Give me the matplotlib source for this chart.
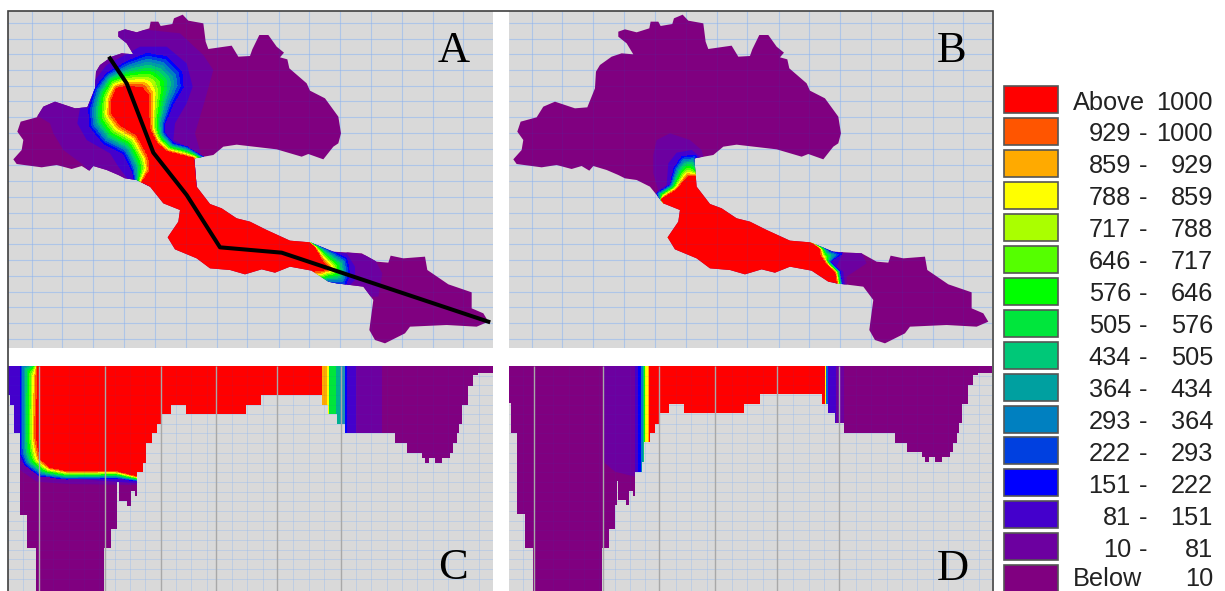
import numpy as np
import matplotlib
matplotlib.use("Agg")
import matplotlib.pyplot as plt
from matplotlib.path import Path
from matplotlib.patches import PathPatch, Rectangle

# Legend
legend_low = ["Above", "929", "859", "788", "717", "646", "576", "505", "434", "364", "293", "222", "151", "81", "10", "Below"]
legend_high = ["1000", "1000", "929", "859", "788", "717", "646", "576", "505", "434", "364", "293", "222", "151", "81", "10"]
legend_colors = ["#ff0000", "#ff5500", "#ffaa00", "#ffff00", "#aaff00", "#55ff00", "#00ff00", "#00e63c",
                 "#00c878", "#00a0a0", "#0080c0", "#0040e0", "#0000ff", "#4400cc", "#6c00a0", "#800080"]
front_levels = [151, 222, 293, 364, 434, 505, 576, 646, 717, 788, 859, 929, 1000, 1001]
IDX_10 = "#6c00a0"
IDX_81 = "#4400cc"
BELOW = "#800080"
PANEL_BG = "#d9d9d9"

# Plan outline
outline = [(355, 95), (375, 88), (410, 97), (448, 85), (452, 65), (475, 65), (482, 78), (517, 72), (522, 55), (548, 44),
           (565, 62), (610, 70), (617, 125), (625, 147), (695, 137), (715, 170), (750, 168), (757, 148), (778, 105),
           (805, 105), (830, 140), (852, 158), (840, 172), (862, 178), (868, 205), (920, 250), (930, 272), (975, 295),
           (1015, 350), (1023, 400), (1015, 430), (1000, 440), (970, 478), (925, 462), (905, 470), (830, 448), (710, 434),
           (670, 440), (640, 465), (583, 475), (590, 560), (630, 612), (665, 625), (710, 655), (750, 665), (800, 690),
           (870, 722), (930, 727), (1000, 755), (1085, 760), (1130, 785), (1165, 788), (1172, 767), (1210, 775), (1275, 770),
           (1282, 810), (1345, 853), (1415, 877), (1415, 925), (1450, 940), (1465, 965), (1430, 980), (1340, 975), (1230, 980),
           (1215, 1000), (1155, 1030), (1125, 1020), (1108, 990), (1120, 900), (1090, 860), (1010, 850), (985, 845), (935, 812),
           (870, 800), (825, 818), (785, 808), (735, 823), (690, 810), (630, 805), (590, 775), (525, 748), (503, 712), (535, 665),
           (540, 630), (490, 610), (450, 560), (410, 540), (375, 535), (355, 525), (320, 510), (280, 498), (268, 512), (245, 498),
           (215, 507), (170, 495), (125, 502), (50, 492), (40, 478), (65, 450), (70, 420), (52, 395), (62, 365), (110, 352),
           (130, 320), (165, 305), (225, 325), (262, 322), (285, 265), (288, 215), (300, 195), (335, 170), (365, 160), (400, 163),
           (380, 130), (355, 110)]
section_line = [(330, 175), (380, 250), (460, 458), (560, 585), (660, 742), (845, 758), (1465, 965)]

# Panel A contours
a_light = [[(100, 340), (140, 290), (280, 150), (355, 80), (540, 100), (610, 165), (640, 210), (615, 300), (585, 400),
            (605, 470), (600, 560), (300, 560), (250, 495), (190, 450), (160, 400), (150, 370)],
           [(1040, 755), (1120, 770), (1147, 820), (1135, 890), (1100, 890), (1040, 860)]]
a_indigo = [[(232, 370), (240, 325), (285, 240), (320, 195), (420, 140), (500, 140), (560, 190), (578, 260), (560, 310),
             (525, 370), (520, 420), (560, 440), (610, 470), (590, 560), (400, 560), (355, 500), (330, 460), (260, 420)],
            [(1000, 755), (1040, 760), (1065, 800), (1065, 840), (1045, 860), (985, 860)]]
a_outer = [(265, 330), (285, 265), (320, 220), (380, 185), (440, 160), (500, 170), (545, 215), (550, 260), (520, 310), (495, 370),
           (495, 400), (520, 430), (560, 440), (600, 465), (700, 520), (850, 650), (930, 725), (1000, 755), (1040, 775),
           (1050, 820), (1035, 858), (985, 850), (900, 900), (500, 850), (405, 545), (395, 510), (370, 460), (310, 430), (270, 380)]
a_inner = [(350, 265), (380, 258), (425, 262), (445, 285), (447, 340), (450, 390), (470, 430), (500, 455), (580, 475), (650, 520),
           (800, 600), (925, 725), (945, 745), (965, 780), (985, 805), (965, 812), (930, 815), (800, 850), (500, 800), (420, 600),
           (425, 548), (450, 510), (445, 470), (410, 405), (360, 375), (335, 340), (335, 300)]

# Panel B contours
b_light = [[(460, 465), (470, 420), (510, 400), (570, 420), (605, 450), (610, 470), (590, 530), (480, 590), (460, 520)],
           [(1000, 760), (1085, 758), (1100, 790), (1040, 830), (1040, 860), (1000, 860)]]
b_indigo = [[(505, 490), (530, 458), (575, 450), (600, 470), (590, 500), (480, 590), (470, 575), (500, 555)],
            [(985, 755), (1030, 755), (1010, 800), (1030, 815), (1035, 860), (1000, 860)]]
b_outer = [(470, 580), (510, 555), (522, 505), (545, 470), (585, 465), (595, 480), (640, 600), (900, 700), (985, 750),
           (1025, 762), (990, 785), (1020, 815), (1028, 860), (950, 900), (500, 850), (480, 600)]
b_inner = [(485, 598), (530, 570), (565, 530), (600, 530), (650, 600), (900, 700), (960, 750), (962, 770), (985, 800),
           (1005, 818), (1012, 858), (950, 890), (520, 840), (490, 610)]

# Section C: bed steps and contours
c_x = [24, 30, 42, 60, 82, 107, 313, 333, 352, 358, 382, 392, 405, 412, 430, 437, 455, 470, 483, 512, 557, 737, 783, 965, 985,
       1010, 1035, 1185, 1222, 1267, 1275, 1288, 1305, 1325, 1350, 1360, 1370, 1377, 1387, 1403, 1420, 1435, 1479]
c_y = [135, 165, 250, 495, 595, 800, 595, 538, 395, 452, 467, 423, 437, 367, 338, 280, 250, 222, 193, 165, 193, 165, 135, 165,
       193, 222, 250, 280, 310, 323, 338, 323, 338, 323, 310, 280, 250, 222, 165, 107, 75, 70]
c_light = [(24, 48), (24, 350), (60, 360), (110, 395), (200, 402), (412, 405), (412, 48)]
c_indigo = [(24, 48), (24, 300), (60, 330), (115, 378), (412, 400), (412, 48)]
c_outer = [(60, 40), (60, 310), (75, 345), (120, 378), (200, 388), (350, 385), (412, 393), (1100, 393), (1100, 40)]
c_inner = [(112, 40), (108, 260), (120, 325), (150, 352), (200, 362), (350, 362), (412, 378), (1100, 378), (1100, 40)]
c_band_edges = [965, 982, 987, 1008, 1020, 1035, 1042, 1067, 1147]
c_band_colors = ["#ffaa00", "#ffff00", "#00e63c", "#00b090", "#2090b0", "#0000ff", IDX_81, IDX_10]
c_verticals = [117, 316, 482, 648, 832, 1022]

# Section D
d_x = [28, 33, 50, 75, 98, 305, 328, 345, 350, 355, 378, 386, 400, 406, 425, 432, 449, 465, 477, 507, 553, 733, 780, 965, 985,
       1005, 1033, 1185, 1222, 1267, 1275, 1288, 1305, 1325, 1350, 1360, 1370, 1377, 1387, 1403, 1420, 1435, 1477]
d_y = [160, 248, 493, 595, 800, 595, 537, 465, 393, 450, 465, 423, 437, 365, 335, 277, 248, 222, 190, 163, 190, 163, 133, 163,
       190, 220, 248, 278, 307, 320, 335, 320, 335, 320, 307, 278, 248, 220, 163, 105, 75, 68]
d_light = [(310, 48), (310, 335), (345, 365), (405, 380), (405, 48)]
d_band_edges = [405, 413, 422, 428, 432, 436, 444, 448, 975, 978, 985, 1008, 1033]
d_band_colors = [IDX_81, "#0000ff", "#0080c0", "#00c878", "#00ff00", "#ffff00", "#ffaa00", "#ff0000", "#ffff00", "#0060e0", IDX_81, IDX_10]
d_verticals = [103, 308, 477, 645, 830, 1018]

map_grid_x = [95, 187, 280, 372, 465, 558, 650, 742, 836, 928, 1020, 1113, 1205, 1298, 1390]
map_grid_y = [70, 117, 163, 210, 257, 303, 350, 398, 447, 495, 543, 590, 638, 685, 733, 780, 827, 875, 922, 970, 1016]
sec_grid_x = [68, 160, 206, 252, 298, 344, 390, 436, 528, 574, 620, 696, 742, 788, 880, 926, 972, 1068, 1114, 1160, 1206, 1252, 1298, 1344, 1390, 1436]
sec_grid_y = [77, 106, 135, 165, 193, 222, 250, 280, 310, 338, 367, 396, 425, 454, 483, 512, 541, 570, 599, 628, 657, 686]


def dist_to_poly(xx, yy, poly):
    pts = np.array(poly + [poly[0]], dtype=float)
    best = np.full(xx.shape, np.inf)
    for (x0, y0), (x1, y1) in zip(pts[:-1], pts[1:]):
        dx, dy = x1 - x0, y1 - y0
        u = np.clip(((xx - x0) * dx + (yy - y0) * dy) / (dx * dx + dy * dy), 0, 1)
        best = np.minimum(best, np.hypot(xx - x0 - u * dx, yy - y0 - u * dy))
    return best


def front_field(xx, yy, inner, outer):
    # spreads the levels between the two contours
    pts = np.column_stack([xx.ravel(), yy.ravel()])
    in_inner = Path(inner).contains_points(pts).reshape(xx.shape)
    in_outer = Path(outer).contains_points(pts).reshape(xx.shape)
    d_in = dist_to_poly(xx, yy, inner)
    d_out = dist_to_poly(xx, yy, outer)
    v = 151 + 849 * d_out / (d_in + d_out + 1e-6)
    v[~in_outer] = 0
    v[in_inner] = 1000.5
    return v


def make_axes(x0, y0, x1, y1, xlim, ylim):
    ax = fig.add_axes([x0 / W, 1 - y1 / H, (x1 - x0) / W, (y1 - y0) / H])
    ax.set_xlim(*xlim)
    ax.set_ylim(*ylim)
    ax.set_axis_off()
    ax.add_patch(Rectangle((xlim[0], ylim[1]), xlim[1] - xlim[0], ylim[0] - ylim[1], fc=PANEL_BG, ec="none", zorder=0))
    return ax


def draw_grid(ax, gx, gy, lw=0.9, col="#bdd3ec"):
    ax.vlines(gx, *ax.get_ylim(), color=col, lw=lw, zorder=1)
    ax.hlines(gy, *ax.get_xlim(), color=col, lw=lw, zorder=1)
    ax.vlines(gx, *ax.get_ylim(), color="#3050c0", lw=lw * 0.8, alpha=0.1, zorder=7)
    ax.hlines(gy, *ax.get_xlim(), color="#3050c0", lw=lw * 0.8, alpha=0.1, zorder=7)


def draw_front(ax, inner, outer, clip, xr, yr):
    xs = np.arange(xr[0], xr[1], 2.0)
    ys = np.arange(yr[0], yr[1], 2.0)
    xx, yy = np.meshgrid(xs, ys)
    cs = ax.contourf(xx, yy, front_field(xx, yy, inner, outer), levels=front_levels,
                     colors=legend_colors[12::-1], zorder=4, antialiased=False)
    cs.set_clip_path(clip)


def draw_map(ax, light, indigo, outer, inner):
    clip = PathPatch(Path(outline + [outline[0]]), fc=BELOW, ec="none", zorder=2)
    ax.add_patch(clip)
    for poly in light:
        ax.fill(*zip(*poly), color=IDX_10, lw=0, zorder=3)[0].set_clip_path(clip)
    for poly in indigo:
        ax.fill(*zip(*poly), color=IDX_81, lw=0, zorder=3.5)[0].set_clip_path(clip)
    draw_front(ax, inner, outer, clip, (20, 1480), (30, 1046))


def draw_section(ax, sx, sy):
    verts = [(sx[0], 48)]
    for i in range(len(sy)):
        verts += [(sx[i], sy[i]), (sx[i + 1], sy[i])]
    verts.append((sx[-1], 48))
    clip = PathPatch(Path(verts + [verts[0]]), fc=BELOW, ec="none", zorder=2)
    ax.add_patch(clip)
    return clip


def draw_bands(ax, edges, colors, clip):
    for i in range(len(colors)):
        r = ax.axvspan(edges[i], edges[i + 1], color=colors[i], lw=0, zorder=5)
        r.set_clip_path(clip)


W, H = 1225, 591
fig = plt.figure(figsize=(W / 100, H / 100), dpi=100, facecolor="white")

# A
ax_a = make_axes(8, 11, 493, 348, (24, 1479), (1044, 33))
draw_grid(ax_a, map_grid_x, map_grid_y)
draw_map(ax_a, a_light, a_indigo, a_outer, a_inner)
ax_a.plot(*zip(*section_line), color="black", lw=2.9, zorder=8, solid_joinstyle="round")

# B
ax_b = make_axes(509.3, 11, 992.3, 348, (28, 1477), (1044, 33))
draw_grid(ax_b, map_grid_x, map_grid_y)
draw_map(ax_b, b_light, b_indigo, b_outer, b_inner)

# C
ax_c = make_axes(8, 366, 493, 591, (24, 1479), (723, 48))
draw_grid(ax_c, sec_grid_x, sec_grid_y, lw=0.6, col="#c6d6e8")
clip_c = draw_section(ax_c, c_x, c_y)
ax_c.fill(*zip(*c_light), color=IDX_10, lw=0, zorder=3)[0].set_clip_path(clip_c)
ax_c.fill(*zip(*c_indigo), color=IDX_81, lw=0, zorder=3.5)[0].set_clip_path(clip_c)
draw_front(ax_c, c_inner, c_outer, clip_c, (24, 1110), (38, 420))
draw_bands(ax_c, c_band_edges, c_band_colors, clip_c)
ax_c.vlines(c_verticals, 723, 48, color="#a8a8a8", lw=1.0, zorder=8)

# D
ax_d = make_axes(509.3, 366, 992.3, 591, (28, 1477), (723, 48))
draw_grid(ax_d, sec_grid_x, sec_grid_y, lw=0.6, col="#c6d6e8")
clip_d = draw_section(ax_d, d_x, d_y)
ax_d.fill(*zip(*d_light), color=IDX_10, lw=0, zorder=3)[0].set_clip_path(clip_d)
draw_bands(ax_d, d_band_edges, d_band_colors, clip_d)
ax_d.vlines(d_verticals, 723, 48, color="#a8a8a8", lw=1.0, zorder=8)

# overlay in image pixels: frame, letters, legend
top = fig.add_axes([0, 0, 1, 1], facecolor="none")
top.set_xlim(0, W)
top.set_ylim(H, 0)
top.set_axis_off()
top.plot([7.5, 7.5, 992.5, 992.5], [H, 11, 11, H], color="#404040", lw=1.2, solid_joinstyle="miter")

for letter, lx, ly in [("A", 454, 62), ("B", 952, 62), ("C", 453, 579), ("D", 953, 580)]:
    top.text(lx, ly, letter, family="Liberation Serif", fontsize=32, ha="center", va="baseline", color="black")

row_h = 27
for i in range(len(legend_low)):
    y = 86 + 31.95 * i
    top.add_patch(Rectangle((1004, y), 54, row_h, fc=legend_colors[i], ec="#555555", lw=1.2, clip_on=False))
    base = min(y + 23.5, 585.5)  # last row sits on the image edge
    txt = dict(family="Liberation Sans", fontsize=18.3, va="baseline", color="#222222")
    if legend_low[i] in ("Above", "Below"):
        top.text(1073, base, legend_low[i], ha="left", **txt)
    else:
        top.text(1131, base, legend_low[i], ha="right", **txt)
        top.text(1143, base, "-", ha="center", **txt)
    top.text(1213, base, legend_high[i], ha="right", **txt)

fig.savefig("out.png", dpi=100)
